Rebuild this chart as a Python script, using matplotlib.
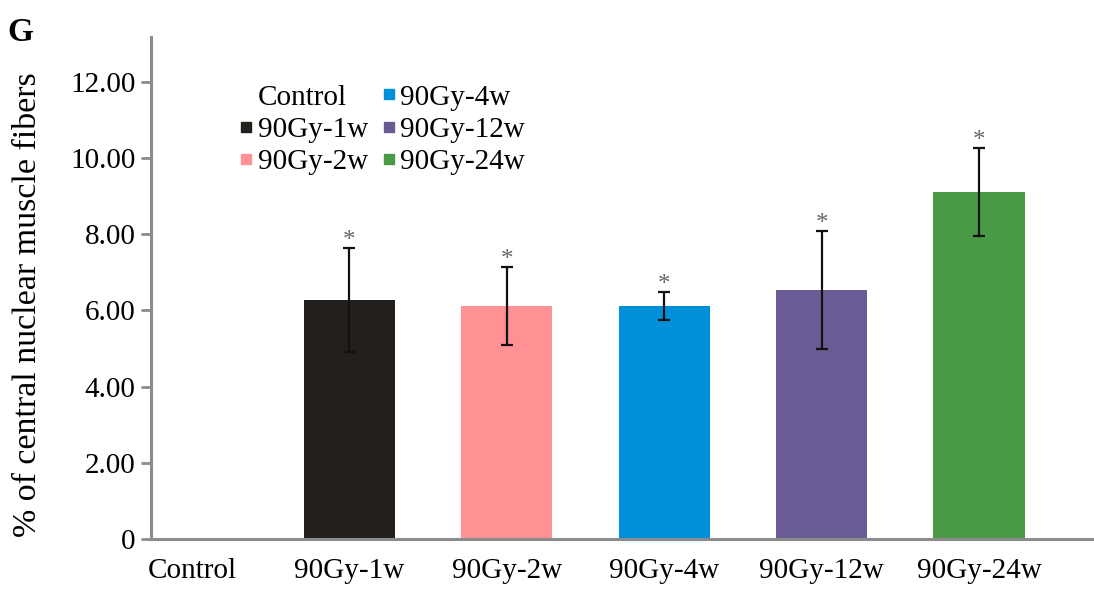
import matplotlib
matplotlib.use('Agg')
import matplotlib.pyplot as plt
import matplotlib.transforms as mtransforms
from matplotlib.lines import Line2D

groups = ['Control', '90Gy-1w', '90Gy-2w', '90Gy-4w', '90Gy-12w', '90Gy-24w']
means = [0.0, 6.27, 6.12, 6.12, 6.54, 9.11]
errs = [0.0, 1.36, 1.02, 0.36, 1.55, 1.16]
signif = [False, True, True, True, True, True]
colors = ['#ffffff', '#231f1c', '#ff9194', '#0090d9', '#6b5b95', '#4a9a45']
yticks = [0, 2, 4, 6, 8, 10, 12]
yticklabels = ['0', '2.00', '4.00', '6.00', '8.00', '10.00', '12.00']

plt.rcParams['font.family'] = ['Liberation Serif', 'DejaVu Serif']
axcol = '#8c8c8c'

fig = plt.figure(figsize=(10.94, 5.92), dpi=100)
ax = fig.add_axes([0.138, 0.0895, 0.862, 0.848])

x = list(range(len(groups)))
ax.bar(x, means, width=0.58, color=colors, zorder=2)
for i in x:
    if errs[i] > 0:
        ax.errorbar(i, means[i], yerr=errs[i], fmt='none', ecolor='#111111',
                    elinewidth=1.6, capsize=4.5, capthick=1.6, zorder=3)
    if signif[i]:
        ax.text(i, means[i] + errs[i] - 0.1, '*', ha='center', va='bottom',
                fontsize=18, color='#666666')

ax.set_xlim(-0.26, 5.73)
ax.set_ylim(0, 13.18)
ax.set_yticks(yticks)
ax.set_yticklabels(yticklabels)
ax.set_xticks(x)
ax.set_xticklabels(groups)
shift = mtransforms.ScaledTranslation(12 / 100, 0, fig.dpi_scale_trans)
for lab in ax.get_xticklabels():
    lab.set_transform(lab.get_transform() + shift)

for s in ['top', 'right']:
    ax.spines[s].set_visible(False)
for s in ['left', 'bottom']:
    ax.spines[s].set_color(axcol)
    ax.spines[s].set_linewidth(2.2)
ax.tick_params(axis='y', direction='out', length=7, width=2, color=axcol,
               labelsize=21, pad=4)
ax.tick_params(axis='x', length=0, labelsize=21, pad=14)
ax.set_ylabel('% of central nuclear muscle fibers', fontsize=24.5)
ax.yaxis.set_label_coords(-0.114, 0.466)

handles = [Line2D([], [], marker='s', linestyle='none', markersize=7,
                  markerfacecolor=c, markeredgecolor=c) for c in colors]
ax.legend(handles, groups, ncol=2, loc='upper left', bbox_to_anchor=(0.075, 0.935),
          frameon=False, fontsize=21, handletextpad=0.05, columnspacing=0.35,
          labelspacing=0.2, handlelength=0.7, borderpad=0)

fig.text(0.007, 0.93, 'G', fontsize=24, fontweight='bold')

fig.savefig('out.png', dpi=100)
